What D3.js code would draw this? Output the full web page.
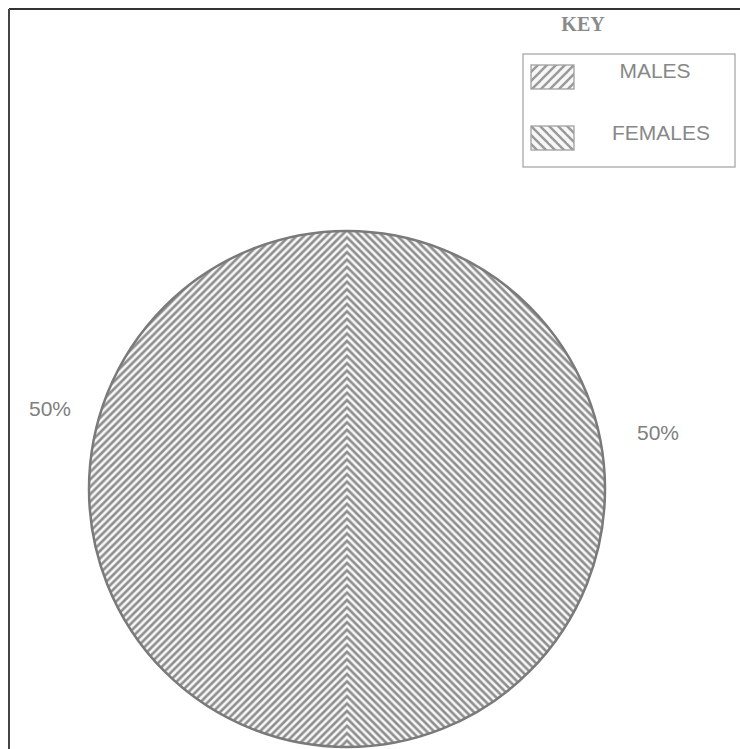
<!DOCTYPE html>
<html>
<head>
<meta charset="utf-8">
<script src="https://cdn.jsdelivr.net/npm/d3@7"></script>
<style>
  body { margin: 0; background: #fff; }
  svg { display: block; }
</style>
</head>
<body>
<svg id="chart"></svg>
<script>
var categories = ["MALES", "FEMALES"];
var values = [50, 50];
var labels = ["50%", "50%"];
var hatchDirs = ["up", "down"]; // "/" for males, "\" for females

var width = 740, height = 749;
var svg = d3.select("#chart").attr("width", width).attr("height", height);

var defs = svg.append("defs");
function makeHatch(id, dir, size, sw, col) {
    var p = defs.append("pattern")
        .attr("id", id)
        .attr("patternUnits", "userSpaceOnUse")
        .attr("width", size).attr("height", size);
    p.append("rect").attr("width", size).attr("height", size).attr("fill", "#f7f7f7");
    var s = size;
    var segs = dir == "up"
        ? [[0, s, s, 0], [-s/2, s/2, s/2, -s/2], [s/2, s*1.5, s*1.5, s/2]]
        : [[0, 0, s, s], [-s/2, s/2, s/2, s*1.5], [s/2, -s/2, s*1.5, s/2]];
    segs.forEach(function(d){
        p.append("line")
            .attr("x1", d[0]).attr("y1", d[1]).attr("x2", d[2]).attr("y2", d[3])
            .attr("stroke", col).attr("stroke-width", sw);
    });
}
makeHatch("hatch-up", "up", 7.4, 2.6, "#8e8e8e");
makeHatch("hatch-down", "down", 7.4, 2.6, "#8e8e8e");
makeHatch("key-up", "up", 9, 2.4, "#9a9a9a");
makeHatch("key-down", "down", 9, 2.4, "#9a9a9a");

// frame (top and left edges only)
svg.append("line").attr("x1", 9).attr("y1", 9).attr("x2", width).attr("y2", 9)
    .attr("stroke", "#333").attr("stroke-width", 2);
svg.append("line").attr("x1", 9).attr("y1", 9).attr("x2", 9).attr("y2", height)
    .attr("stroke", "#444").attr("stroke-width", 2);

// pie
var cx = 347, cy = 489, r = 258;
var pie = d3.pie().sort(null).startAngle(Math.PI).endAngle(3 * Math.PI);
var arc = d3.arc().innerRadius(0).outerRadius(r);
var arcs = pie(values);

var g = svg.append("g").attr("transform", "translate(" + cx + "," + cy + ")");
g.selectAll("path.slice")
    .data(arcs)
    .enter().append("path")
    .attr("class", "slice")
    .attr("d", arc)
    .attr("fill", function(d, i){ return "url(#hatch-" + hatchDirs[i] + ")"; })
    .attr("stroke", "none");
g.append("circle").attr("r", r).attr("fill", "none")
    .attr("stroke", "#7a7a7a").attr("stroke-width", 2.5);

// percentage labels
var labelPos = [[-297, -81], [311, -57]];
g.selectAll("text.pct")
    .data(arcs)
    .enter().append("text")
    .attr("class", "pct")
    .attr("x", function(d, i){ return labelPos[i][0]; })
    .attr("y", function(d, i){ return labelPos[i][1]; })
    .attr("text-anchor", "middle")
    .attr("dominant-baseline", "central")
    .style("font-family", "Liberation Sans, Arial, sans-serif")
    .style("font-size", "21px")
    .style("fill", "#808080")
    .text(function(d, i){ return labels[i]; });

// key
svg.append("text").attr("x", 583).attr("y", 31)
    .attr("text-anchor", "middle")
    .style("font-family", "Liberation Serif, Times New Roman, serif")
    .style("font-weight", "bold")
    .style("font-size", "20px")
    .style("fill", "#8a8a8a")
    .text("KEY");
svg.append("rect").attr("x", 523).attr("y", 54).attr("width", 212).attr("height", 113)
    .attr("fill", "none").attr("stroke", "#a8a8a8").attr("stroke-width", 1.3);

var keyRows = [{y: 65, tx: 655, ty: 70}, {y: 126, tx: 661, ty: 132}];
var key = svg.selectAll("g.key")
    .data(categories)
    .enter().append("g").attr("class", "key");
key.append("rect")
    .attr("x", 531)
    .attr("y", function(d, i){ return keyRows[i].y; })
    .attr("width", 43).attr("height", 24)
    .attr("fill", function(d, i){ return "url(#key-" + hatchDirs[i] + ")"; })
    .attr("stroke", "#a0a0a0").attr("stroke-width", 1.3);
key.append("text")
    .attr("x", function(d, i){ return keyRows[i].tx; })
    .attr("y", function(d, i){ return keyRows[i].ty; })
    .attr("text-anchor", "middle")
    .attr("dominant-baseline", "central")
    .style("font-family", "Liberation Sans, Arial, sans-serif")
    .style("font-size", "21px")
    .style("fill", "#888")
    .text(function(d){ return d; });
</script>
</body>
</html>
